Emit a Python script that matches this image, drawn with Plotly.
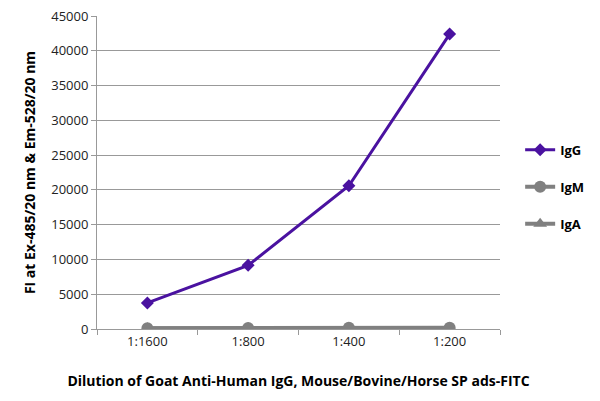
import plotly.graph_objects as go

categories = ["1:1600", "1:800", "1:400", "1:200"]
igg = [3750, 9150, 20600, 42400]
igm = [120, 150, 170, 180]
iga = [100, 130, 150, 160]

purple = "#4a12a0"
gray = "#808080"

fig = go.Figure()
fig.add_trace(go.Scatter(x=categories, y=igg, name="IgG", mode="lines+markers",
                         line=dict(color=purple, width=3),
                         marker=dict(symbol="diamond", size=10, color=purple),
                         legendgroup="a"))
fig.add_trace(go.Scatter(x=categories, y=igm, name="IgM", mode="lines+markers",
                         line=dict(color=gray, width=4),
                         marker=dict(symbol="circle", size=12, color=gray),
                         legendgroup="b"))
fig.add_trace(go.Scatter(x=categories, y=iga, name="IgA", mode="lines+markers",
                         line=dict(color=gray, width=4),
                         marker=dict(symbol="triangle-up", size=12, color=gray),
                         legendgroup="c"))

font = "Open Sans"
# page body has an 8px default margin; figure is sized to fill the rest of the 600x401 window
fig.update_layout(
    width=592, height=393,
    margin=dict(l=89, r=100, t=8, b=72, autoexpand=False),
    plot_bgcolor="white", paper_bgcolor="white",
    font=dict(family=font, size=13, color="#222"),
    showlegend=True,
    legend=dict(x=1.05, y=0.454, xanchor="left", yanchor="middle",
                font=dict(family=font, size=13, color="#000", weight="bold"),
                tracegroupgap=17, itemwidth=30),
    xaxis=dict(type="category", range=[-0.5, 3.5], showgrid=False, automargin=False,
               showline=True, linecolor="#999", linewidth=1,
               ticks="outside", tickson="boundaries", ticklen=5, tickcolor="#999",
               tickfont=dict(size=13, color="#222"),
               title=dict(text="Dilution of Goat Anti-Human IgG, Mouse/Bovine/Horse SP ads-FITC",
                          font=dict(size=14, color="#000", weight="bold"), standoff=27)),
    yaxis=dict(range=[0, 45000], dtick=5000, tickformat="d", showgrid=True,
               gridcolor="#999", gridwidth=1, automargin=False,
               ticklabeloverflow="allow",
               showline=True, linecolor="#999", linewidth=1,
               ticks="outside", ticklen=5, tickcolor="#999", zeroline=False,
               tickfont=dict(size=13, color="#222"),
               title=dict(text="FI at Ex-485/20 nm & Em-528/20 nm",
                          font=dict(size=14, color="#000", weight="bold"), standoff=12)),
)

fig.write_html("out.html")
